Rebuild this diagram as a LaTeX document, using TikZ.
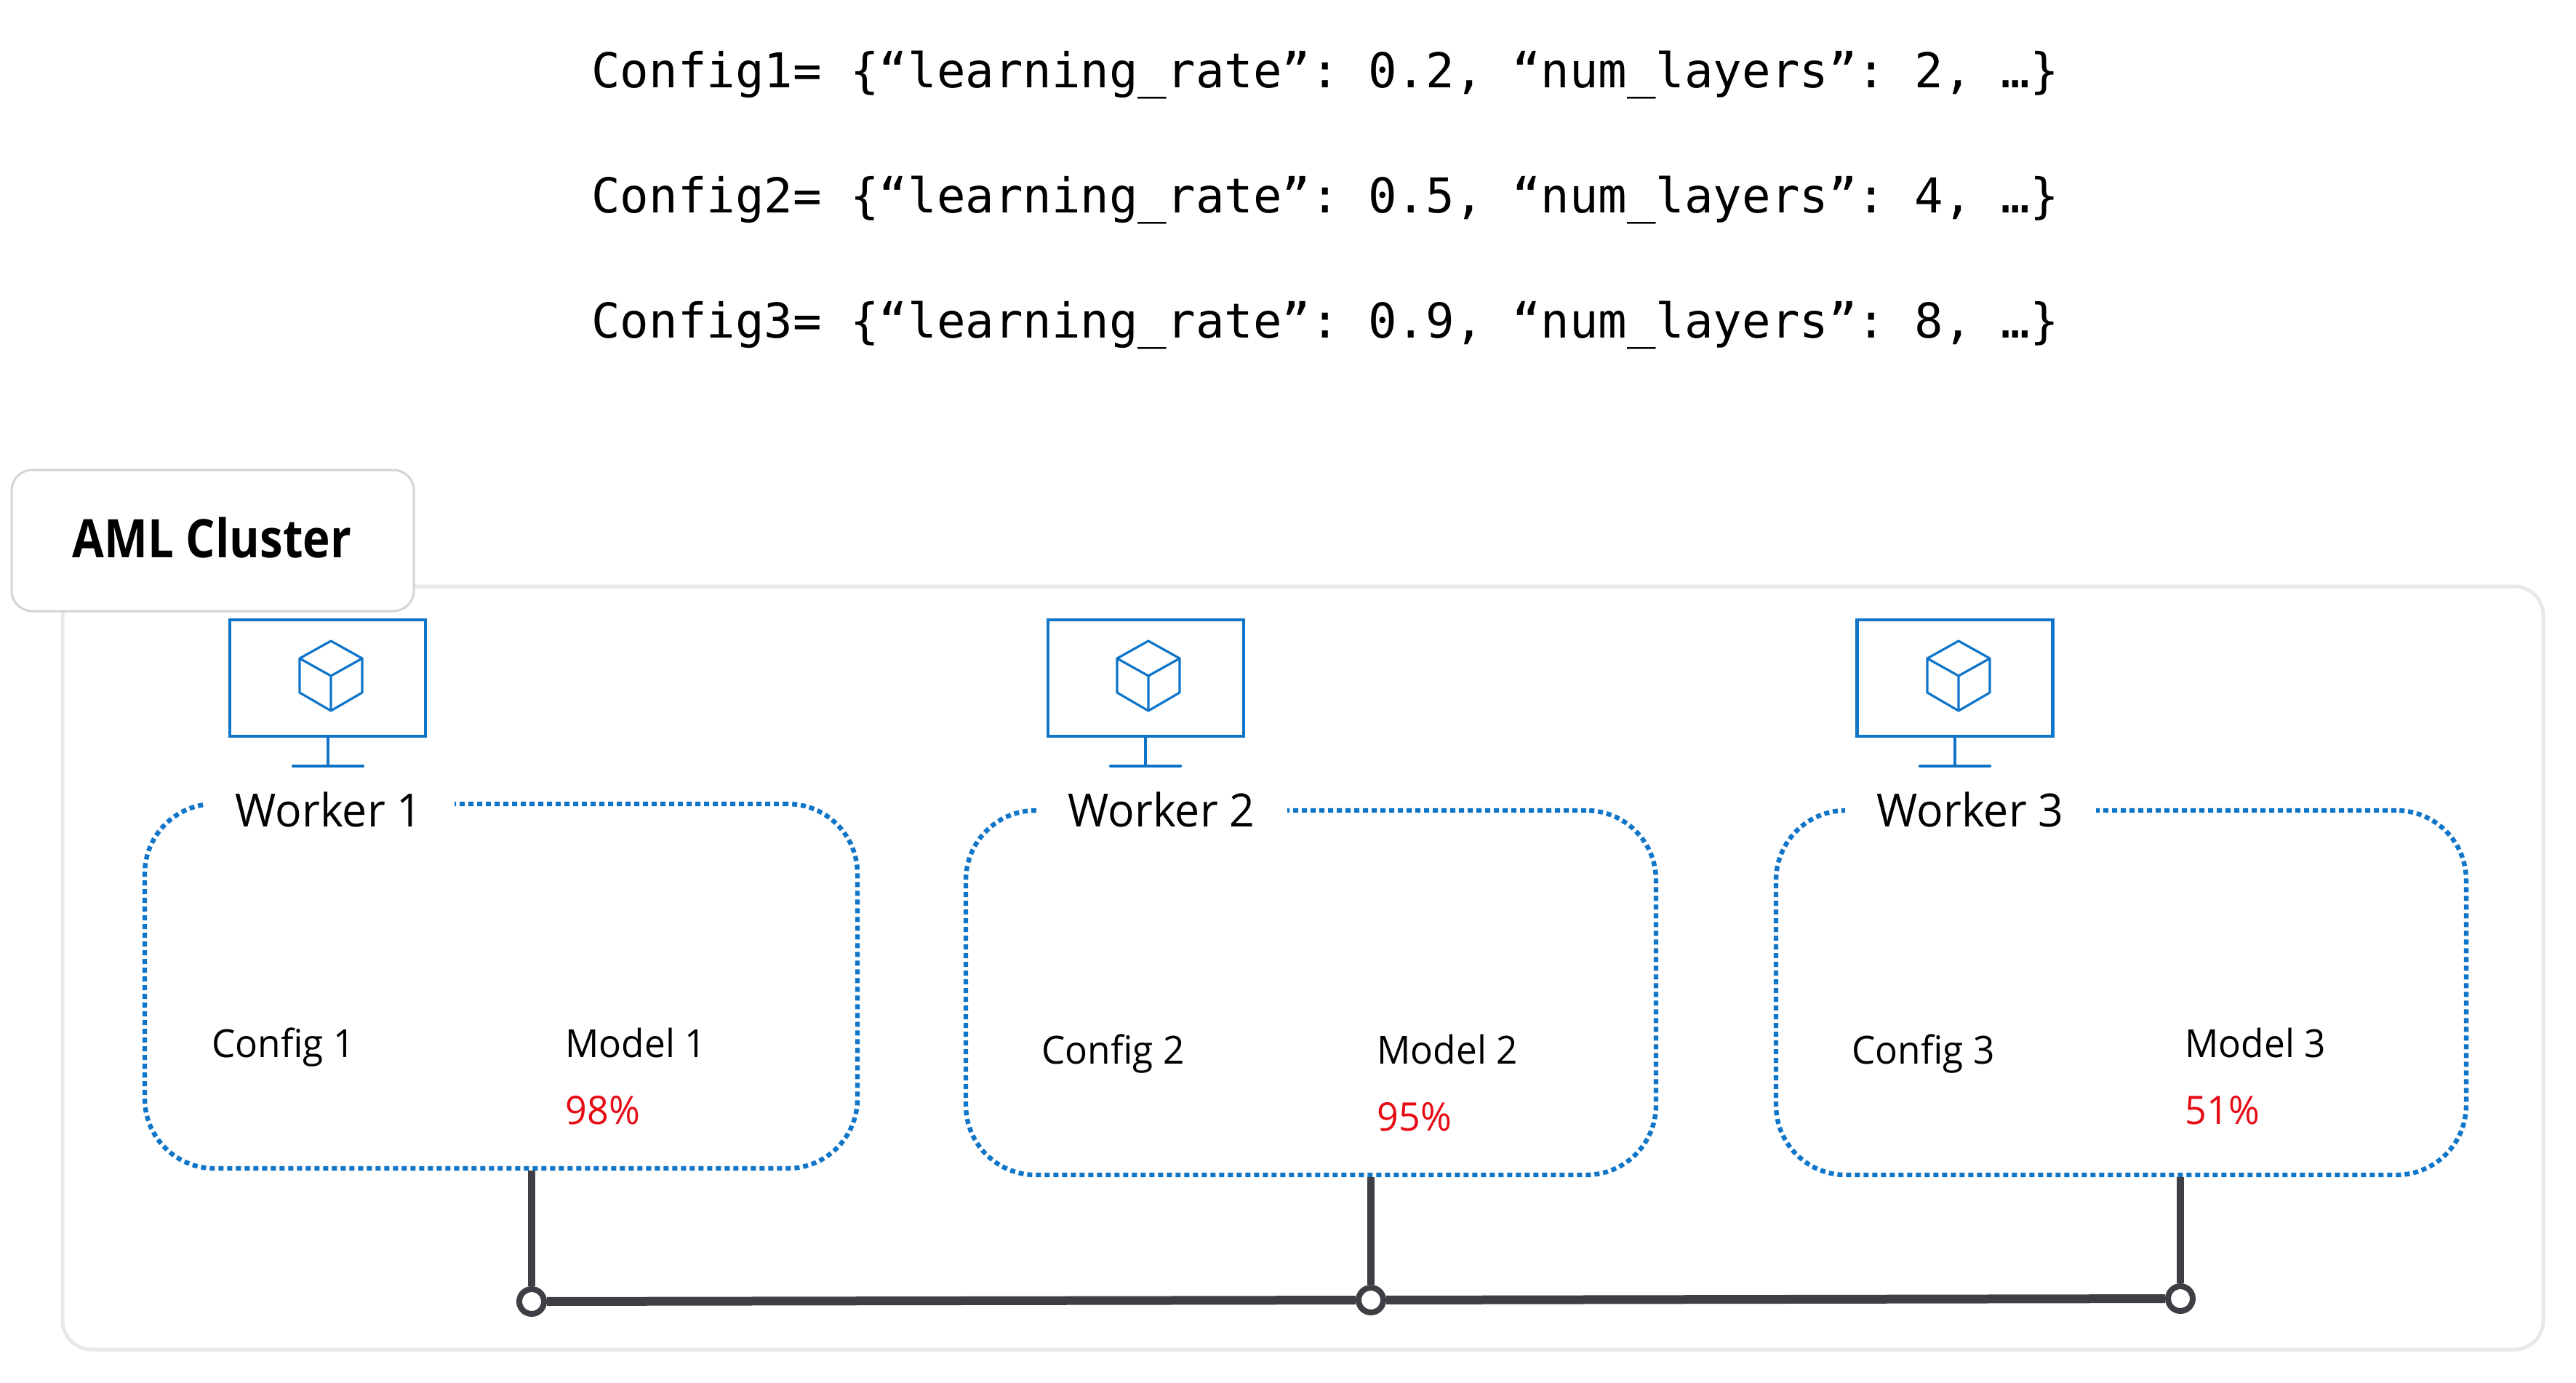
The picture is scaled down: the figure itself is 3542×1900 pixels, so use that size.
\documentclass[tikz,border=0pt]{standalone}
\usepackage{fontspec}
\setmainfont{Open Sans}[FakeStretch=.965]
\setmonofont{DejaVu Sans Mono}[FakeStretch=.9955]
\newfontfamily\amlfont{Open Sans}[FakeStretch=.87]
\definecolor{azblue}{HTML}{0F75C8}
\definecolor{dark}{HTML}{3E3E44}
\definecolor{redpct}{HTML}{E60B14}
\definecolor{frame}{HTML}{E8E8E8}
\definecolor{tabline}{HTML}{D4D4D4}
\tikzset{
  cfgtext/.style={anchor=base west,inner sep=0pt,font=\ttfamily\fontsize{33}{36}\selectfont},
  cluster/.style={draw=frame,line width=2.5pt,rounded corners=20pt,minimum width=1705.5pt,minimum height=524.5pt,inner sep=0pt},
  tabbox/.style={draw=tabline,line width=1.5pt,fill=white,rounded corners=14pt,minimum width=276.5pt,minimum height=97pt,inner sep=0pt},
  screen/.style={draw=azblue,line width=2.2pt,minimum width=134.5pt,minimum height=80pt,inner sep=0pt},
  stem/.style={draw=azblue,line width=1.6pt},
  foot/.style={draw=azblue,line width=2.2pt},
  cubeline/.style={draw=azblue,line width=1.6pt,line join=round},
  workerbox/.style={draw=azblue,line width=3.2pt,dash pattern=on 3.5pt off 2.5pt,rounded corners=48pt,minimum height=250.5pt,inner sep=0pt},
  workertag/.style={fill=white,anchor=base,minimum width=172.5pt,inner ysep=3pt,inner xsep=0pt,font=\fontsize{31.5}{34}\selectfont},
  lbl/.style={anchor=base west,inner sep=0pt,font=\fontsize{26.6}{29}\selectfont},
  pct/.style={anchor=base west,inner sep=0pt,text=redpct,font=\fontsize{27}{30}\selectfont},
  junction/.style={circle,draw=dark,fill=white,line width=4pt,minimum size=17pt,inner sep=0pt},
  busline/.style={draw=dark,line width=6pt},
  dropline/.style={draw=dark,line width=5pt},
}
\newcommand{\workstation}[4]{% name, screen centre x, cube x, stand x
  \node[screen] (#1) at (#2,932) {};
  \coordinate (#1foot) at (#4,1053);
  \draw[stem] (#1.south -| #1foot) -- (#1foot);
  \draw[foot,line cap=round] (#4-48,1053) -- (#4+48,1053);
  \draw[cubeline] (#3,881) -- (#3+43,905) -- (#3+43,952) -- (#3,977) -- (#3-43,952) -- (#3-43,905) -- cycle
    (#3-43,905) -- (#3,929) -- (#3+43,905) (#3,929) -- (#3,977);
}
\begin{document}
\begin{tikzpicture}[x=0.5pt,y=-0.5pt]
\useasboundingbox (0,0) rectangle (3542,1900);
\fill[white] (0,0) rectangle (3542,1900);

\node[cfgtext] (cfga) at (813,120) {Config1= \{“learning\_rate”: 0.2, “num\_layers”: 2, …\}};
\node[cfgtext] (cfgb) at (813,292) {Config2= \{“learning\_rate”: 0.5, “num\_layers”: 4, …\}};
\node[cfgtext] (cfgc) at (813,464) {Config3= \{“learning\_rate”: 0.9, “num\_layers”: 8, …\}};

\node[cluster] (cluster) at (1791.5,1330.5) {};
\node[tabbox] (tab) at (292.5,743) {};
\node[anchor=base,inner sep=0pt,font=\amlfont\bfseries\fontsize{36.5}{40}\selectfont] (tabtext) at (291.5,766) {AML Cluster};

\workstation{mona}{450.6}{455}{451}
\workstation{monb}{1575.6}{1579}{1575}
\workstation{monc}{2688}{2693}{2688}

\node[workerbox,minimum width=490pt] (boxa) at (689,1355.5) {};
\node[workerbox,minimum width=474.5pt] (boxb) at (1802.5,1364.5) {};
\node[workerbox,minimum width=474.5pt] (boxc) at (2916.5,1364.5) {};

\node[workertag] (wa) at (452,1136) {Worker 1};
\node[workertag] (wb) at (1597,1136) {Worker 2};
\node[workertag] (wc) at (2709,1136) {Worker 3};

\node[lbl] (ca) at (291,1453) {Config 1};
\node[lbl] (ma) at (777,1453) {Model 1};
\node[pct] (pa) at (777,1545) {98\%};
\node[lbl] (cb) at (1432,1462) {Config 2};
\node[lbl] (mb) at (1893,1462) {Model 2};
\node[pct] (pb) at (1893,1554) {95\%};
\node[lbl] (cc) at (2546,1462) {Config 3};
\node[lbl] (mc) at (3004,1453) {Model 3};
\node[pct] (pc) at (3004,1545) {51\%};

\node[junction] (ja) at (731,1789) {};
\node[junction] (jb) at (1885,1787) {};
\node[junction] (jc) at (2998,1785) {};
\draw[busline] (ja) -- (jb);
\draw[busline] (jb) -- (jc);
\draw[dropline] (ja) -- (ja |- boxa.south);
\draw[dropline] (jb) -- (jb |- boxb.south);
\draw[dropline] (jc) -- (jc |- boxc.south);
\end{tikzpicture}
\end{document}
